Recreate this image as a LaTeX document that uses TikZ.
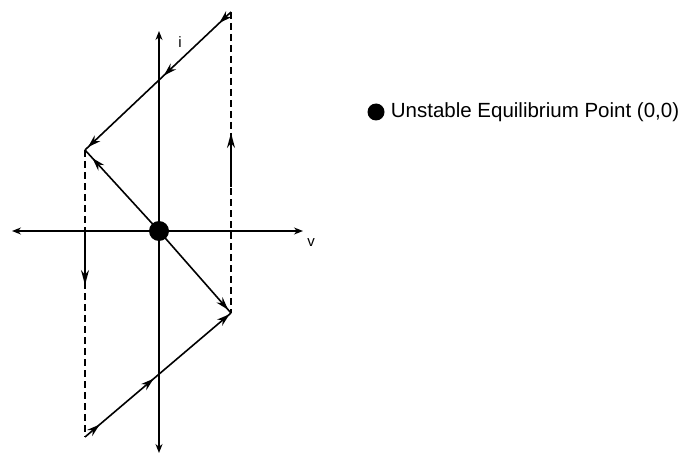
\documentclass[tikz,border=0pt]{standalone}
\usepackage{fontspec}
\setmainfont{Liberation Sans}
\usetikzlibrary{arrows.meta,decorations.markings,positioning}
\tikzset{
  eqpoint/.style={circle,fill=black,inner sep=0pt,minimum size=#1},
  flow/.style={line width=1.6pt},
  axisline/.style={line width=1.3pt,{Stealth[length=9pt,width=7pt]}-{Stealth[length=9pt,width=7pt]}},
  guide/.style={line width=1.4pt,dash pattern=on 7pt off 4pt},
  tipat/.style={postaction={decorate,decoration={markings,
      mark=at position #1 with {\arrow{Stealth[length=13pt,width=8pt]}}}}},
  lbl/.style={font=\fontsize{15}{17}\selectfont,inner sep=0pt},
}
\begin{document}
\begin{tikzpicture}[x=1pt,y=-1pt]
\useasboundingbox (0,0) rectangle (687,457);

% axes
\coordinate (vl) at (12,231);
\coordinate (vr) at (303,231);
\coordinate (it) at (159,31);
\coordinate (ib) at (159,453);
\draw[axisline] (vl) -- (vr);
\draw[axisline] (it) -- (ib);
\node[lbl] (ilab) at (180,42) {i};
\node[lbl] (vlab) at (311,243) {v};

% corners of the trajectory
\coordinate (A) at (231,12);
\coordinate (B) at (85,150);
\coordinate (C) at (231,313);
\coordinate (D) at (85,437);

% jumps
\draw[guide] (A) -- (C);
\draw[guide] (B) -- (D);
\coordinate (ra) at (231,187);
\coordinate (rb) at (231,133);
\coordinate (la) at (85,231);
\coordinate (lb) at (85,285);
\draw[flow,-{Stealth[length=15pt,width=8pt]}] (ra) -- (rb);
\draw[flow,-{Stealth[length=15pt,width=8pt]}] (la) -- (lb);

% slow branches
\node[eqpoint=20pt] (O) at (159,231) {};
\draw[flow,tipat=0.08,tipat=0.46,tipat=0.98] (A) -- (B);
\draw[flow,tipat=0.9] (O.center) -- (B);
\draw[flow,tipat=0.96] (O.center) -- (C);
\draw[flow,tipat=0.1,tipat=0.47,tipat=0.99] (D) -- (C);

% legend
\node[eqpoint=17pt] (leg) at (376,112) {};
\node[lbl,font=\fontsize{20.5}{22}\selectfont,right=6pt of leg] (legtext) {Unstable Equilibrium Point (0,0)};
\end{tikzpicture}
\end{document}
